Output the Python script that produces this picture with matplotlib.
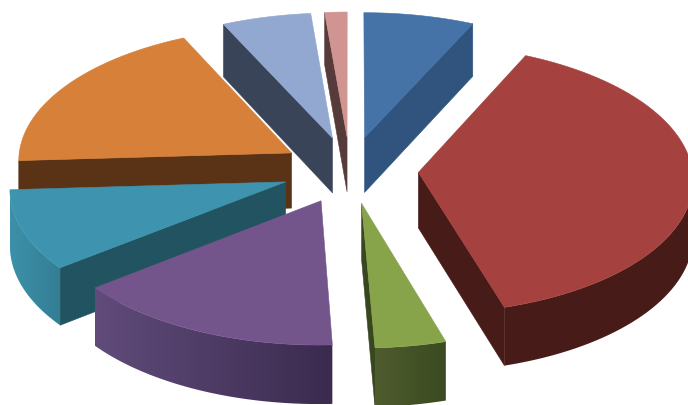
import numpy as np
import matplotlib
matplotlib.use('Agg')
import matplotlib.pyplot as plt
from matplotlib.colors import to_rgb
from matplotlib.patches import Polygon

# share of each slice, clockwise from 12 o'clock
values = [6.89, 38.47, 3.94, 15.14, 9.64, 18.97, 5.56, 1.39]
top_colors = ['#4572a7', '#a5413f', '#87a44b', '#73558c', '#3e94ae', '#d6803a', '#92a8d0', '#d09491']
cut_colors = ['#30547e', '#471b18', '#38471f', '#3b2c50', '#215460', '#5a3216', '#3a4458', '#573a3a']
wall_left = ['#30547e', '#471b18', '#4e5c2e', '#604b7a', '#3d90a9', '#5a3216', '#3a4458', '#573a3a']
wall_right = ['#30547e', '#471b18', '#3b4a20', '#3b2b4f', '#337e95', '#5a3216', '#3a4458', '#573a3a']

cx, cy = 350, 170
rx, ry = 274, 134.1
persp = 0.0488
explode = 0.25
depth = 55.5


def proj(u, v, drop=0):
    w = 1 / (1 - persp * v)
    return cx + rx * u * w, cy + ry * v * w + drop * w


fig = plt.figure(figsize=(6.88, 4.05), dpi=100)
ax = fig.add_axes([0, 0, 1, 1])
ax.set_xlim(0, 688)
ax.set_ylim(405, 0)
ax.axis('off')

edges = np.cumsum([0] + values) / sum(values) * 360
slices = []
for i in range(len(values)):
    t1, t2 = edges[i], edges[i + 1]
    mid = np.radians((t1 + t2) / 2)
    ou, ov = explode * np.sin(mid), -explode * np.cos(mid)
    slices.append((ov, i, t1, t2, ou))

# back slices first
for ov, i, t1, t2, ou in sorted(slices):
    ang = np.radians(np.linspace(t1, t2, 80))
    us = ou + np.sin(ang)
    vs = ov - np.cos(ang)
    apex_top = proj(ou, ov)
    apex_bot = proj(ou, ov, depth)

    # cut faces
    if np.sin(np.radians(t1)) < 0:
        ax.add_patch(Polygon([apex_top, proj(us[0], vs[0]), proj(us[0], vs[0], depth), apex_bot],
                             fc=cut_colors[i], ec=cut_colors[i], lw=0.4))
    if np.sin(np.radians(t2)) > 0:
        ax.add_patch(Polygon([apex_top, proj(us[-1], vs[-1]), proj(us[-1], vs[-1], depth), apex_bot],
                             fc=cut_colors[i], ec=cut_colors[i], lw=0.4))

    # outer wall, only the part facing the viewer, gradient clipped to it
    keep = np.cos(ang) < 0.02
    if keep.sum() > 1:
        tx, ty = proj(us[keep], vs[keep])
        bx, by = proj(us[keep], vs[keep], depth)
        wall = Polygon(list(zip(tx, ty)) + list(zip(bx, by))[::-1], fc='none', ec='none')
        ax.add_patch(wall)
        grad = np.linspace(to_rgb(wall_left[i]), to_rgb(wall_right[i]), 64)[None, :, :]
        im = ax.imshow(grad, extent=[tx.min(), tx.max(), by.max(), ty.min()], aspect='auto',
                       interpolation='bilinear', zorder=wall.get_zorder())
        im.set_clip_path(wall)
        ax.set_xlim(0, 688)
        ax.set_ylim(405, 0)

    # top face
    px, py = proj(us, vs)
    ax.add_patch(Polygon([apex_top] + list(zip(px, py)), fc=top_colors[i], ec=top_colors[i], lw=0.4))

fig.savefig('out.png', dpi=100)
